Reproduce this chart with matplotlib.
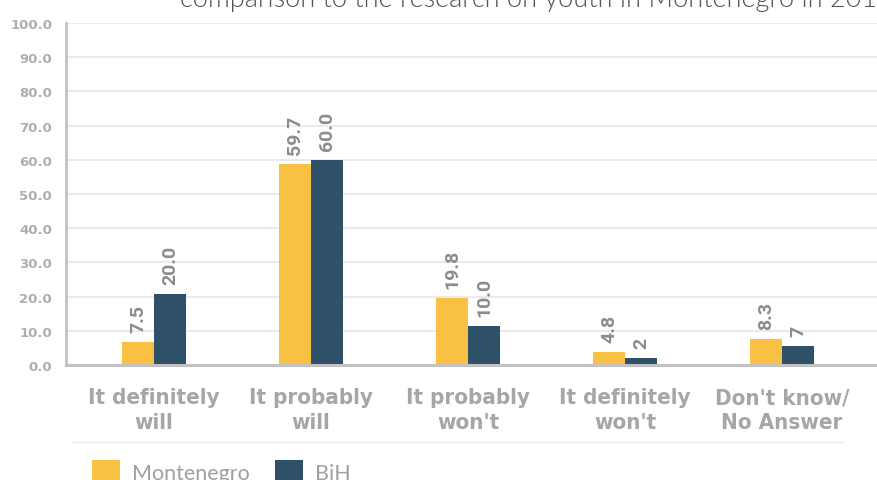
import matplotlib
matplotlib.use("Agg")
import numpy as np
from matplotlib import pyplot as plt
from matplotlib.lines import Line2D

# 데이터
categories = ["It definitely\nwill", "It probably\nwill", "It probably\nwon't",
              "It definitely\nwon't", "Don't know/\nNo Answer"]
montenegro = [6.8, 58.8, 19.6, 3.8, 7.6]
bih = [20.8, 60.0, 11.4, 2.0, 5.6]
montenegro_labels = ["7.5", "59.7", "19.8", "4.8", "8.3"]
bih_labels = ["20.0", "60.0", "10.0", "2", "7"]
yticks = np.arange(0, 101, 10)

YELLOW = "#F9C143"
BLUE = "#2E5069"

fig = plt.figure(figsize=(8.77, 4.81), dpi=100)
ax = fig.add_axes([66/877, 115/481, 811/877, 342/481])

x = np.arange(len(categories))
w = 0.204
b1 = ax.bar(x - w/2, montenegro, w, color=YELLOW, label="Montenegro", zorder=3)
b2 = ax.bar(x + w/2, bih, w, color=BLUE, label="BiH", zorder=3)

# 값 레이블 (세로)
for bars, labels in ((b1, montenegro_labels), (b2, bih_labels)):
    for rect, lab in zip(bars, labels):
        ax.annotate(lab, (rect.get_x() + rect.get_width()/2, rect.get_height()),
                    xytext=(0, 7), textcoords="offset points", rotation=90,
                    ha="center", va="bottom", fontsize=14, fontweight="bold",
                    color="#8c8c8c", family=["Roboto", "DejaVu Sans"])

ax.set_xlim(-0.5605, 4.605)
ax.set_ylim(0, 100)
ax.set_yticks(yticks)
ax.set_yticklabels([f"{v:.1f}" for v in yticks], fontsize=9.5, fontweight="bold",
                   color="#aeaeae")
ax.set_xticks(x)
ax.set_xticklabels(categories, fontsize=16, fontweight="bold", color="#a6a6a6",
                   linespacing=1.3, stretch="condensed", family=["DejaVu Sans"])
ax.tick_params(axis="y", length=0, pad=10)
ax.tick_params(axis="x", length=0, pad=16)

ax.grid(axis="y", color="#e8e8e8", lw=1.3, zorder=0)
for s in ("top", "right"):
    ax.spines[s].set_visible(False)
ax.spines["left"].set_color("#c2c2c2")
ax.spines["left"].set_linewidth(2)
ax.spines["bottom"].set_color("#c2c2c2")
ax.spines["bottom"].set_linewidth(2.2)
ax.spines["bottom"].set_zorder(4)

# 잘린 제목
fig.text(180/877, 1 - 7/481, "comparison to the research on youth in Montenegro in 2018",
         ha="left", va="baseline", fontsize=19.5, color="#505050",
         family=["Lato", "DejaVu Sans"], fontweight=300)

fig.add_artist(Line2D([72/877, 843/877], [1 - 443/481]*2, transform=fig.transFigure,
                      color="#e8e8e8", lw=1))

fig.legend(handles=[b1, b2], loc="upper left", bbox_to_anchor=(92/877, 20/481),
           ncol=2, frameon=False, handlelength=1.3, handleheight=1.3,
           handletextpad=0.55, columnspacing=1.2, borderpad=0, borderaxespad=0,
           labelcolor="#a0a0a0", prop={"family": ["Lato", "DejaVu Sans"], "size": 15.5})

fig.savefig("out.png", dpi=100)
